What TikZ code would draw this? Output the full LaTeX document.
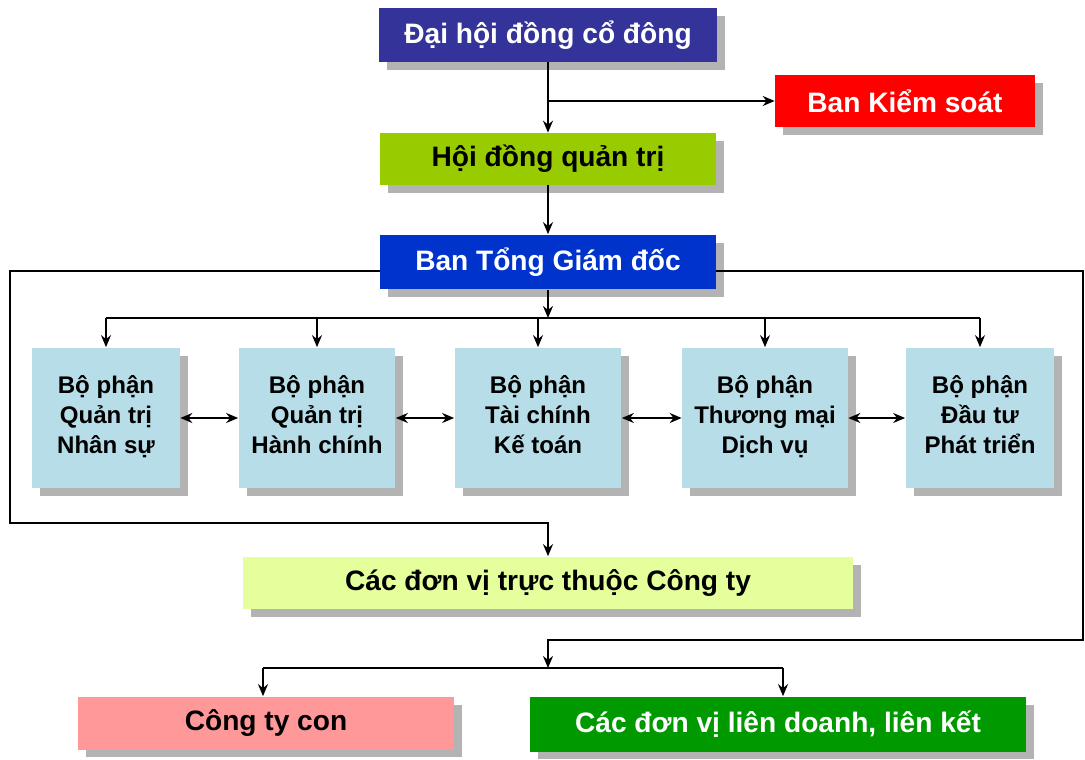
\documentclass[tikz,border=0pt]{standalone}
\usepackage{fontspec}
\setmainfont{Liberation Sans}
\usetikzlibrary{positioning,arrows.meta,shadows,calc}
\definecolor{ocindigo}{HTML}{333399}
\definecolor{ocred}{HTML}{FF0000}
\definecolor{ocolive}{HTML}{99CC00}
\definecolor{ocblue}{HTML}{0033CC}
\definecolor{ocpale}{HTML}{B7DEE8}
\definecolor{oclime}{HTML}{E4FF9C}
\definecolor{ocpink}{HTML}{FF9999}
\definecolor{ocgreen}{HTML}{009900}
\definecolor{ocshade}{HTML}{B3B3B3}
\tikzset{
  oc/.style={align=center, inner sep=2pt, font=\bfseries\fontsize{16}{19}\selectfont,
             drop shadow={shadow xshift=0.16cm, shadow yshift=-0.16cm, fill=ocshade, opacity=1}},
  oc dark/.style={oc, fill=#1, text=white},
  oc light/.style={oc, fill=#1, text=black},
  oc dept/.style={oc light=ocpale, font=\bfseries\fontsize{13.7}{17}\selectfont, minimum height=2.82cm,
                  execute at begin node={\lineskiplimit=-20pt\rule{0pt}{14pt}},
                  execute at end node={\rule[-4pt]{0pt}{4pt}}},
  oc line/.style={line width=1pt, black},
  oc arr/.style={oc line, -{Stealth[length=2.4mm, width=2mm]}},
  oc dbl/.style={oc line, {Stealth[length=2.4mm, width=2mm]}-{Stealth[length=2.4mm, width=2mm]}},
}
\begin{document}
\begin{tikzpicture}[x=0.02cm, y=-0.02cm]
  \useasboundingbox (0,0) rectangle (1085,760);
  % top: shareholders, supervisors, board
  \node[oc dark=ocindigo, minimum width=6.76cm, minimum height=1.08cm] (dhcd) at (548,35) {Đại hội đồng cổ đông};
  \node[oc dark=ocred, minimum width=5.2cm, minimum height=1.06cm] (bks) at (905,101) {Ban Kiểm soát};
  \node[oc light=ocolive, minimum width=6.72cm, minimum height=1.04cm] (hdqt) at (548,159) {Hội đồng quản trị};
  \node[oc dark=ocblue, minimum width=6.72cm, minimum height=1.1cm] (btgd) at (548,262) {Ban Tổng Giám đốc};
  \coordinate (kj) at (548,101);
  \draw[oc arr] (dhcd) -- (hdqt);
  \draw[oc arr] (kj) -- (bks.west |- kj);
  \draw[oc arr] (hdqt) -- (btgd);
  % departments
  \node[oc dept, minimum width=2.96cm] (p1) at (106,418) {Bộ phận\\Quản trị\\Nhân sự};
  \node[oc dept, minimum width=3.14cm] (p2) at (317,418) {Bộ phận\\Quản trị\\Hành chính};
  \node[oc dept, minimum width=3.34cm] (p3) at (538,418) {Bộ phận\\Tài chính\\Kế toán};
  \node[oc dept, minimum width=3.32cm] (p4) at (765,418) {Bộ phận\\Thương mại\\Dịch vụ};
  \node[oc dept, minimum width=2.98cm] (p5) at (980,418) {Bộ phận\\Đầu tư\\Phát triển};
  \coordinate (bus) at (548,318);
  \draw[oc arr] (btgd) -- (bus);
  \draw[oc line] (p1.north |- bus) -- (p5.north |- bus);
  \foreach \p in {p1,p2,p3,p4,p5} \draw[oc arr] (\p.north |- bus) -- (\p.north);
  \foreach \a/\b in {p1/p2,p2/p3,p3/p4,p4/p5} \draw[oc dbl] (\a) -- (\b);
  % units below
  \node[oc light=oclime, minimum width=12.2cm, minimum height=1.06cm] (cdv) at (548,583) {Các đơn vị trực thuộc Công ty};
  \node[oc light=ocpink, minimum width=7.54cm, minimum height=1.06cm] (ctc) at (266,723) {Công ty con};
  \node[oc dark=ocgreen, minimum width=9.94cm, minimum height=1.1cm] (cdvld) at (778,724) {Các đơn vị liên doanh, liên kết};
  \coordinate (sub) at (548,668);
  \draw[oc arr] ([yshift=-0.18cm]btgd.west) -| (10,523) -| (cdv.north);
  \draw[oc arr] ([yshift=-0.18cm]btgd.east) -| (1083,640) -| (sub);
  \draw[oc line] ([xshift=-0.06cm]ctc.north |- sub) -- ([xshift=0.1cm]cdvld.north |- sub);
  \draw[oc arr] ([xshift=-0.06cm]ctc.north |- sub) -- ([xshift=-0.06cm]ctc.north);
  \draw[oc arr] ([xshift=0.1cm]cdvld.north |- sub) -- ([xshift=0.1cm]cdvld.north);
\end{tikzpicture}
\end{document}
